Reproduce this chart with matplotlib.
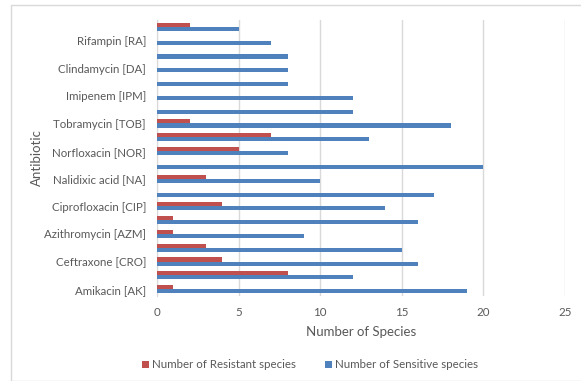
import matplotlib
matplotlib.use("Agg")
import matplotlib.pyplot as plt
import numpy as np

# bottom to top
categories = ["Amikacin [AK]", "", "Ceftraxone [CRO]", "", "Azithromycin [AZM]", "",
              "Ciprofloxacin [CIP]", "", "Nalidixic acid [NA]", "", "Norfloxacin [NOR]", "",
              "Tobramycin [TOB]", "", "Imipenem [IPM]", "", "Clindamycin [DA]", "",
              "Rifampin [RA]", ""]
resistant = [1, 8, 4, 3, 1, 1, 4, 0, 3, 0, 5, 7, 2, 0, 0, 0, 0, 0, 0, 2]
sensitive = [19, 12, 16, 15, 9, 16, 14, 17, 10, 20, 8, 13, 18, 12, 12, 8, 8, 8, 7, 5]
xticks = [0, 5, 10, 15, 20, 25]

plt.rcParams['font.family'] = ['Lato', 'DejaVu Sans']
grey = "#595959"
red = "#C0504D"
blue = "#4F81BD"

fig = plt.figure(figsize=(5.81, 3.81), dpi=100)
# chart border
fig.patches.append(plt.Rectangle((11/581, 0.0), 1.0, 1 - 5/381, transform=fig.transFigure,
                                 fill=False, edgecolor="#D9D9D9", linewidth=1.0))
ax = fig.add_axes([157/581, 1 - 296/381, (565 - 157)/581, (296 - 20)/381])

y = np.arange(len(categories))
h = 0.3
ax.barh(y + h/2, resistant, height=h, color=red, label="Number of Resistant species", zorder=3)
ax.barh(y - h/2, sensitive, height=h, color=blue, label="Number of Sensitive species", zorder=3)

ax.set_ylim(-0.5, len(categories) - 0.5)
ax.set_xlim(0, 25)
ax.set_xticks(xticks)
ax.set_yticks(y[::2])
ax.set_yticklabels(categories[::2])
ax.tick_params(axis='both', length=0, colors=grey, labelsize=8.3)
ax.tick_params(axis='x', pad=8)
ax.tick_params(axis='y', pad=8)
ax.grid(axis='x', color="#D9D9D9", linewidth=1.0, zorder=0)
for s in ['top', 'right', 'bottom']:
    ax.spines[s].set_visible(False)
ax.spines['left'].set_color("#D9D9D9")

ax.set_xlabel("Number of Species", color=grey, fontsize=9.5, labelpad=6)
ax.set_ylabel("Antibiotic", color=grey, fontsize=9.5)
ax.yaxis.set_label_coords((43 - 157) / 408, 0.5)

handles, labels = ax.get_legend_handles_labels()
fig.legend(handles, labels, loc='center', bbox_to_anchor=(310/581, 1 - 365/381), ncol=2,
           frameon=False, fontsize=8.3, labelcolor=grey, handlelength=0.6, handleheight=0.6,
           handletextpad=0.3, columnspacing=2.5)

fig.savefig("out.png", dpi=100)
